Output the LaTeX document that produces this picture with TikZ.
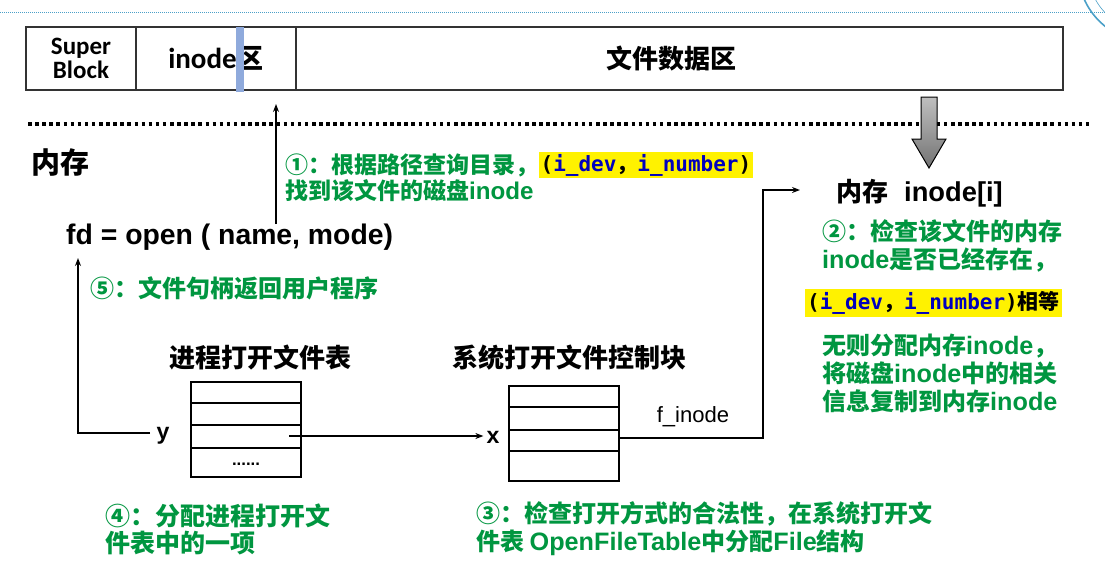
\documentclass[tikz,border=0pt]{standalone}
\usepackage{fontspec}
\setmainfont{Noto Sans CJK SC}
\newfontfamily\lat{Liberation Sans}[Scale=1.05]
\newfontfamily\latc{Carlito}
\newfontfamily\mono{DejaVu Sans Mono}
\usetikzlibrary{arrows.meta}
\definecolor{gr}{RGB}{0,150,64}
\definecolor{idb}{RGB}{0,0,190}
\definecolor{barblue}{RGB}{143,170,220}
\definecolor{logob}{RGB}{75,160,200}
\newcommand\idpair{{\mono\bfseries (\textcolor{idb}{i\_dev}{\normalfont\bfseries ，}\textcolor{idb}{i\_number})}}
\begin{document}
\begin{tikzpicture}[x=1pt,y=-1pt,
 arr/.style={line width=1.3pt,-{Stealth[length=8pt,width=6pt]}},
 gtext/.style={text=gr,font=\bfseries\fontsize{24}{28}\selectfont,anchor=west,inner sep=0pt,align=left},
 title/.style={font=\bfseries\fontsize{26}{30}\selectfont,inner sep=0pt},
 hl/.style={fill=yellow,inner sep=2pt,font=\bfseries\fontsize{21}{25}\selectfont,anchor=west},
 cell/.style={draw=black!80,line width=1.3pt,minimum height=63pt,inner sep=0pt,align=center},
 tbl/.style={draw,line width=2.6pt,minimum width=110pt,minimum height=95pt,inner sep=0pt},
 row/.style={line width=2pt}
]
\clip (0,0) rectangle (1105,566);
\fill[white] (0,0) rectangle (1105,566);
% header decoration
\draw[logob,line width=1pt,dash pattern=on 1pt off 1pt] (0,12) -- (1105,12);
\draw[logob,line width=1.6pt] (1150,-30) circle (72);
\draw[logob,line width=0.6pt] (1150,-30) circle (62);
% disk layout bar
\node[cell,minimum width=110pt,font=\latc\bfseries\fontsize{25}{24}\selectfont] (sb) at (81,58.5) {Super\\Block};
\node[cell,minimum width=160pt,font=\bfseries\fontsize{27}{30}\selectfont] (ino) at (216,58.5) {{\latc\fontsize{29}{30}\selectfont inode}区};
\node[cell,minimum width=767pt,font=\bfseries\fontsize{26}{30}\selectfont] (data) at (679.5,58.5) {文件数据区\hspace{16pt}};
\fill[barblue] (236,27) rectangle (244,92);
% dotted separator and gray arrow
\draw[line width=3.5pt,dash pattern=on 3.5pt off 3.6pt] (28,124) -- (1092,124);
\draw[line width=1pt,top color=black!25,bottom color=black!55] (921,97) -- (937,97) -- (937,139) -- (946,139) -- (929,168) -- (912,139) -- (921,139) -- cycle;
% memory label
\node[font=\bfseries\fontsize{29}{32}\selectfont,anchor=west,inner sep=0pt] (mem) at (31,162) {内存};
% step 1
\node[gtext,font=\bfseries\fontsize{23}{27}\selectfont] (s1a) at (285,165) {①：根据路径查询目录，};
\node[hl] (h1) at (s1a.east) {\idpair};
\node[gtext,font=\bfseries\fontsize{23}{27}\selectfont] (s1b) at (285,191) {找到该文件的磁盘{\lat inode}};
% open call
\node[font=\lat\bfseries\fontsize{27}{30}\selectfont,anchor=west,inner sep=0pt] (fd) at (66,237) {fd = open ( name, mode)};
\coordinate (a1s) at (276,224);
\coordinate (a1e) at (276,104);
\draw[arr] (a1s) -- (a1e);
% step 5
\node[gtext] (s5) at (90,288) {⑤：文件句柄返回用户程序};
% tables
\node[title] (pt) at (260,358) {进程打开文件表};
\node[title] (st) at (569,358) {系统打开文件控制块};
\node[tbl] (t1) at (246,429.5) {};
\draw[row] (191,403) -- (301,403) (191,425) -- (301,425) (191,448) -- (301,448);
\node[font=\lat\bfseries\fontsize{16}{18}\selectfont] (dots1) at (246,464) {......};
\node[tbl] (t2) at (564,433.5) {};
\draw[row] (509,407) -- (619,407) (509,430) -- (619,430) (509,451) -- (619,451);
% labels
\node[font=\lat\bfseries\fontsize{22}{26}\selectfont,inner sep=0pt] (ylab) at (163,436) {y};
\node[font=\lat\bfseries\fontsize{22}{26}\selectfont,inner sep=0pt] (xlab) at (493,437) {x};
\node[font=\lat\fontsize{21}{24}\selectfont,inner sep=0pt] (fin) at (693,417) {f\_inode};
% connectors
\coordinate (yend) at (150,433);
\coordinate (fdin) at (78,258);
\draw[arr] (yend) -| (fdin);
\coordinate (t1p) at (289,436);
\draw[arr,shorten >=3pt] (t1p) -- (t1p -| xlab.west);
\coordinate (t2r) at (619,438);
\coordinate (ient) at (800,190);
\draw[arr] (t2r) -- (763,438) |- (ient);
% memory inode
\node[font=\bfseries\fontsize{26}{30}\selectfont,anchor=west,inner sep=0pt] (memi) at (836,193) {内存\hspace{16pt}{\lat inode[i]}};
% step 2
\node[gtext] (s2) at (822,246) {②：检查该文件的内存\\{\lat inode}是否已经存在，};
\node[hl] (h2) at (805,303) {\idpair 相等};
\node[gtext] (s2b) at (822,373) {无则分配内存{\lat inode}，\\将磁盘{\lat inode}中的相关\\信息复制到内存{\lat inode}};
% steps 4 and 3
\node[gtext,font=\bfseries\fontsize{25}{27}\selectfont] (s4) at (105,529.5) {④：分配进程打开文\\件表中的一项};
\node[gtext] (s3) at (476,528.5) {③：检查打开方式的合法性，在系统打开文\\件表 {\lat OpenFileTable}中分配{\lat File}结构};
\end{tikzpicture}
\end{document}
